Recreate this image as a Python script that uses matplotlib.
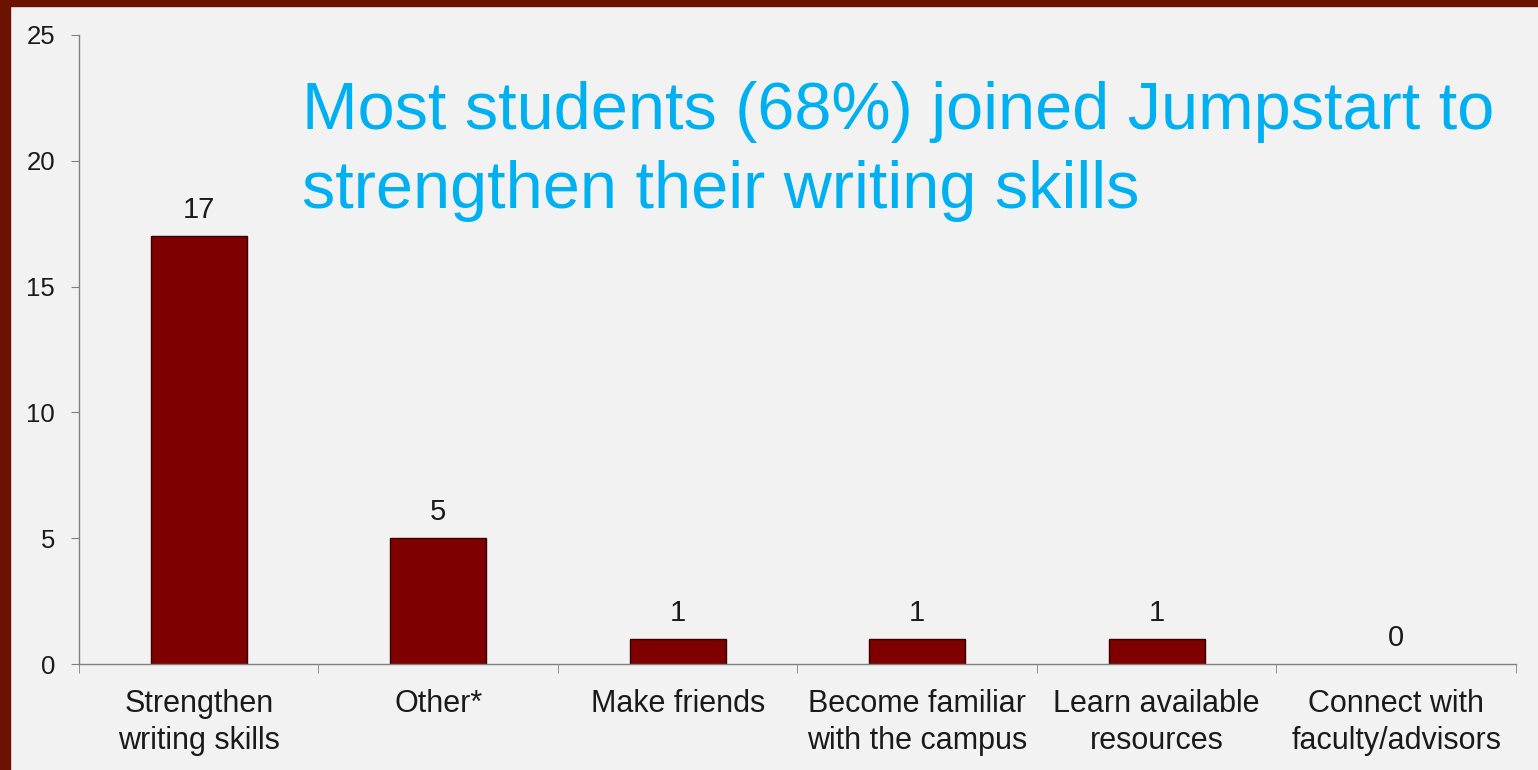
import matplotlib.pyplot as plt
from matplotlib.patches import Rectangle
import numpy as np

plt.rcParams['font.family'] = ['Liberation Sans', 'DejaVu Sans']

categories = ["Strengthen\nwriting skills", "Other*", "Make friends",
              "Become familiar\nwith the campus", "Learn available\nresources",
              "Connect with\nfaculty/advisors"]
counts = [17, 5, 1, 1, 1, 0]
yticks = [0, 5, 10, 15, 20, 25]
title = "Most students (68%) joined Jumpstart to\nstrengthen their writing skills"

bg = "#F2F2F2"
bar_color = "#7F0000"
border = "#6B1300"
text_color = "#1a1a1a"
axis_color = "#808080"

fig = plt.figure(figsize=(15.38, 7.7), dpi=100, facecolor=bg)
# dark red frame on left and top
fig.patches.append(Rectangle((0, 0), 10 / 1538, 1, transform=fig.transFigure, color=border, zorder=0))
fig.patches.append(Rectangle((0, 1 - 6 / 770), 1, 6 / 770, transform=fig.transFigure, color=border, zorder=0))

ax = fig.add_axes([79 / 1538, 1 - 664 / 770, (1516 - 79) / 1538, (664 - 35) / 770])
ax.set_facecolor(bg)

x = np.arange(len(categories))
ax.bar(x, counts, width=0.4, color=bar_color,
       edgecolor=["#3a0000" if v > 0 else "none" for v in counts], linewidth=1)
for xi, v in zip(x, counts):
    ax.annotate(str(v), (xi, v), xytext=(0, 13), textcoords="offset points",
                ha="center", va="baseline", fontsize=21, color=text_color)

ax.set_xlim(-0.5, len(categories) - 0.5)
ax.set_ylim(0, 25)
ax.set_yticks(yticks)
ax.set_xticks(x)
ax.set_xticklabels(categories, fontsize=22, color=text_color, linespacing=1.3)
ax.set_xticks(np.arange(len(categories) + 1) - 0.5, minor=True)
ax.tick_params(axis="x", which="major", length=0, pad=18)
ax.tick_params(axis="x", which="minor", length=6.5, color=axis_color, direction="out")
ax.tick_params(axis="y", length=5.8, color=axis_color, labelsize=18.5, labelcolor=text_color, pad=11.5)

for s in ["top", "right"]:
    ax.spines[s].set_visible(False)
for s in ["left", "bottom"]:
    ax.spines[s].set_color(axis_color)
    ax.spines[s].set_linewidth(1)

fig.text(302 / 1538, 1 - 208 / 770, title, fontsize=48, color="#00B0F0",
         ha="left", va="baseline", linespacing=1.35)

fig.savefig("out.png", dpi=100, facecolor=bg)
